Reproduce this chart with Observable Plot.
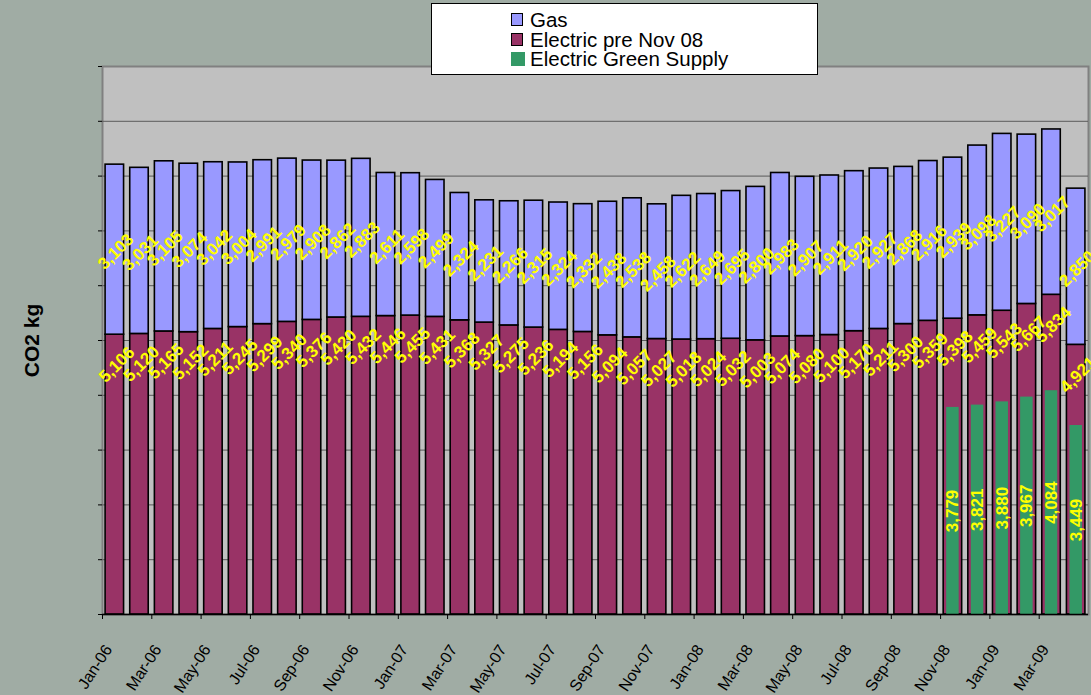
<!DOCTYPE html>
<html><head><meta charset="utf-8">
<script src="https://cdn.jsdelivr.net/npm/d3@7"></script>
<script src="https://cdn.jsdelivr.net/npm/@observablehq/plot@0.6"></script>
<style>
body{margin:0;background:#a0aca4;font-family:"Liberation Sans",Arial,sans-serif;}
#wrap{position:relative;width:1091px;height:695px;overflow:hidden;}
#legend{position:absolute;left:431px;top:3px;width:385px;height:70px;background:#fff;border:1px solid #000;}
.row{position:absolute;left:79px;height:19px;line-height:19px;display:flex;align-items:center;font-size:20.5px;color:#000;white-space:nowrap;}
.sw{width:10px;height:11px;border:1px solid #000;margin-right:7px;}
.sw.g{width:14px;height:14px;border:none;margin-right:5px;}
</style></head><body>
<div id="wrap"><div id="chart"></div>
<div id="legend">
  <div class="row" style="top:6px"><span class="sw" style="background:#9999ff"></span>Gas</div>
  <div class="row" style="top:25.5px"><span class="sw" style="background:#993366"></span>Electric pre Nov 08</div>
  <div class="row" style="top:45px"><span class="sw g" style="background:#339966"></span>Electric Green Supply</div>
</div></div>
<script>
const months = ["Jan-06","Feb-06","Mar-06","Apr-06","May-06","Jun-06","Jul-06","Aug-06","Sep-06","Oct-06","Nov-06","Dec-06",
"Jan-07","Feb-07","Mar-07","Apr-07","May-07","Jun-07","Jul-07","Aug-07","Sep-07","Oct-07","Nov-07","Dec-07",
"Jan-08","Feb-08","Mar-08","Apr-08","May-08","Jun-08","Jul-08","Aug-08","Sep-08","Oct-08","Nov-08","Dec-08",
"Jan-09","Feb-09","Mar-09","Apr-09"];
const gas = [3103,3031,3105,3074,3042,3004,2991,2979,2908,2862,2883,2611,
2598,2499,2324,2231,2266,2315,2324,2332,2438,2538,2458,2622,
2649,2695,2800,2983,2907,2911,2920,2927,2868,2916,2939,3098,
3227,3090,3017,2850];
const electric = [5106,5120,5165,5152,5211,5245,5299,5340,5376,5420,5432,5446,
5455,5431,5368,5327,5275,5236,5194,5156,5094,5057,5027,5018,
5024,5032,5003,5074,5080,5100,5170,5211,5300,5359,5398,5459,
5543,5667,5834,4921];
const greenMonths = ["Nov-08","Dec-08","Jan-09","Feb-09","Mar-09","Apr-09"];
const green = [3779,3821,3880,3967,4084,3449];
const yTicks = [0,1000,2000,3000,4000,5000,6000,7000,8000,9000,10000];
const gridVals = [1000,2000,3000,4000,5000,6000,7000,8000,9000];
const xTickLabels = months.filter((d,i)=>i%2===0);
const yTitle = ["CO2 kg"];

const rows = months.map((m,i)=>({month:m, electric:electric[i], gas:gas[i]}));
const greenRows = greenMonths.map((m,i)=>({month:m, value:green[i]}));
const fmt = d3.format(",");
const step = (1088-102)/40;
const lab = {fill:"#ffff00", fontSize:17, fontWeight:"bold"};

const chart = Plot.plot({
  width:1091, height:695,
  marginLeft:102, marginRight:3, marginTop:66, marginBottom:81,
  style:{background:"transparent", fontFamily:"'Liberation Sans', Arial, sans-serif"},
  x:{type:"band", domain:months, paddingInner:0.25, paddingOuter:0.125, round:false, axis:null},
  y:{domain:[0,10000], axis:null},
  marks:[
    Plot.frame({fill:"#c0c0c0", stroke:"#808080", strokeWidth:2}),
    Plot.ruleY(gridVals, {stroke:"#5a5a5a", strokeWidth:1}),
    Plot.barY(rows, {x:"month", y1:0, y2:"electric", fill:"#993366", stroke:"#000", strokeWidth:1.6}),
    Plot.barY(rows, {x:"month", y1:"electric", y2:d=>d.electric+d.gas, fill:"#9999ff", stroke:"#000", strokeWidth:1.6}),
    Plot.barY(greenRows, {x:"month", y:"value", fill:"#339966", insetLeft:3, insetRight:3}),
    Plot.text(rows, {x:"month", y:d=>d.electric+d.gas/2, text:d=>fmt(d.gas), rotate:-45, dx:1, dy:2, ...lab}),
    Plot.text(rows, {x:"month", y:"electric", text:d=>fmt(d.electric), rotate:-45, dx:2, dy:30, ...lab}),
    Plot.text(greenRows, {x:"month", y:d=>d.value/2, text:d=>fmt(d.value), rotate:-90, ...lab}),
    Plot.ruleY([0], {stroke:"#000", strokeWidth:1.5}),
    Plot.axisY({ticks:yTicks, tickSize:4, tickFormat:()=>"", label:null, stroke:"#000"}),
    Plot.axisX({ticks:xTickLabels, tickSize:5, tickFormat:()=>"", label:null, dx:-step/2}),
    Plot.axisX({ticks:xTickLabels, tickSize:0, tickPadding:26, tickRotate:-57, label:null, dx:-step/2+6, dy:6, fontSize:16, fill:"#000"}),
    Plot.text(yTitle, {frameAnchor:"left", textAnchor:"middle", dx:-70, rotate:-90, fontSize:21, fontWeight:"bold", fill:"#000"})
  ]
});
document.getElementById("chart").appendChild(chart);
</script>
</body></html>
